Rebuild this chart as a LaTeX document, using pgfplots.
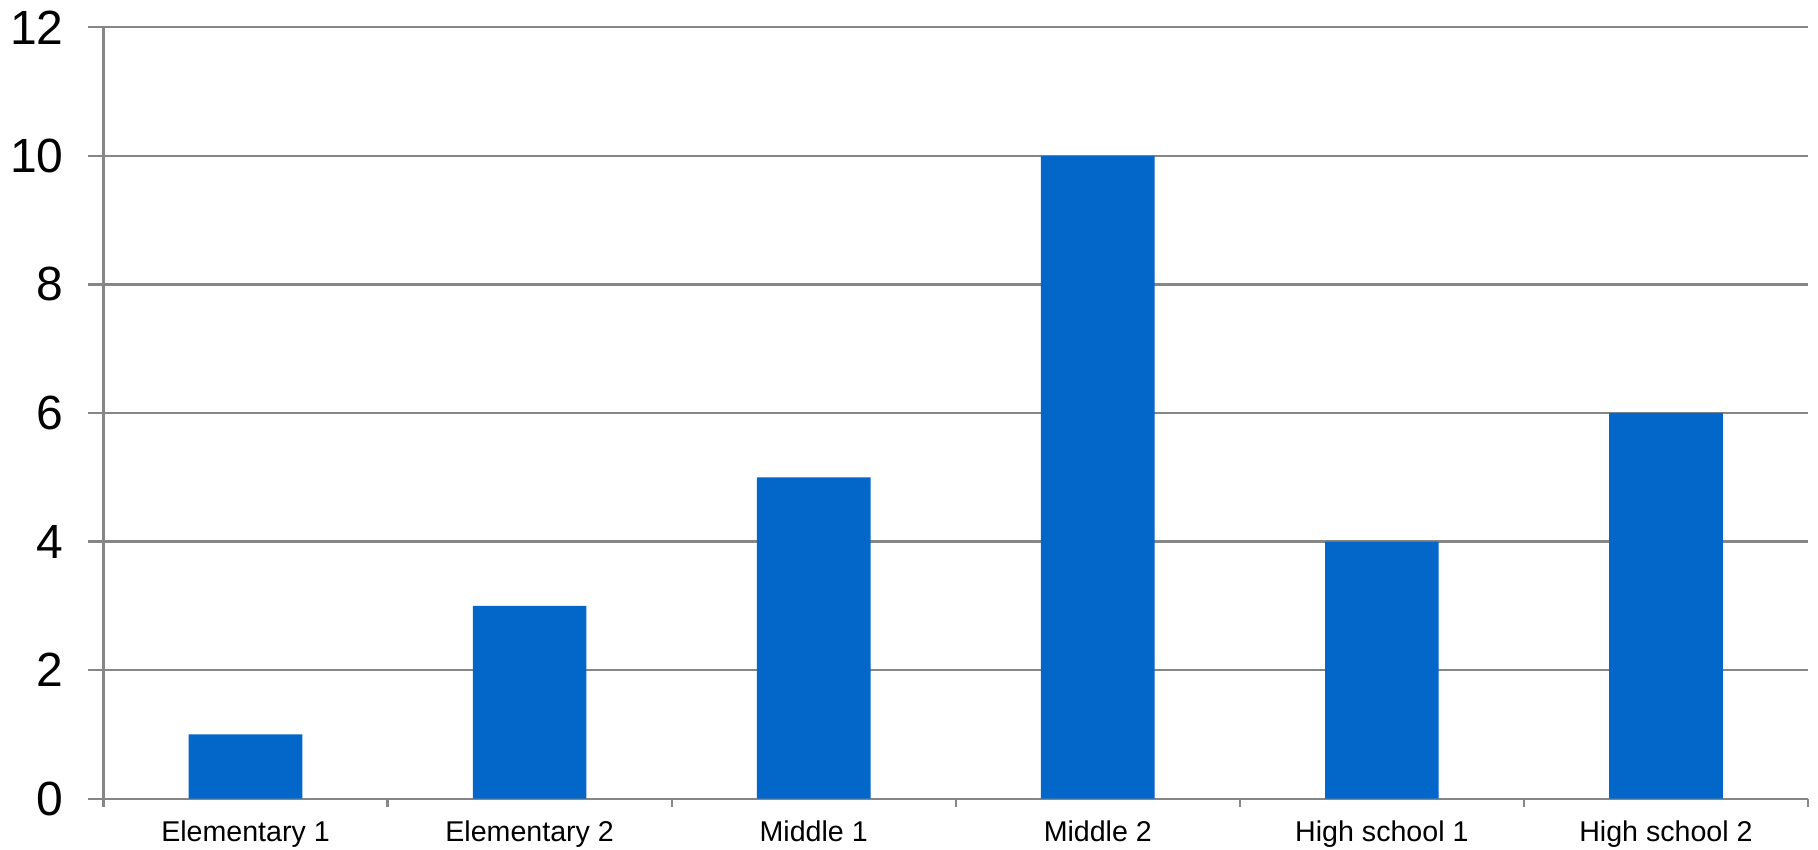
\documentclass[border=0pt]{standalone}
\usepackage{pgfplots}
\pgfplotsset{compat=1.18}
\usepackage{fontspec}
\setmainfont{Liberation Sans}
\definecolor{barblue}{RGB}{3,102,201}
\definecolor{axisgray}{RGB}{134,134,134}
\begin{document}
\begin{tikzpicture}
\useasboundingbox (-51.75pt,-25.65pt) rectangle (857.25pt,399.35pt);
\begin{axis}[
  at={(0,0)}, anchor=south west,
  scale only axis,
  width=852.25pt, height=385.7pt,
  xmin=-0.5, xmax=5.5,
  ymin=0, ymax=12,
  ytick={0,2,...,12},
  xtick={0,...,5},
  xticklabels={Elementary 1,Elementary 2,Middle 1,Middle 2,High school 1,High school 2},
  minor xtick={-0.5,0.5,...,5.5},
  every major x tick/.append style={draw=none},
  axis x line*=bottom,
  axis y line*=left,
  axis line style={draw=axisgray, line width=1.1pt, -},
  tick align=outside,
  major tick length=7.5pt,
  minor tick length=4pt,
  tick style={draw=axisgray, line width=1.1pt},
  ymajorgrids,
  grid style={draw=axisgray, line width=1.1pt},
  /pgf/number format/assume math mode=true,
  yticklabel style={font=\fontsize{24}{24}\selectfont, xshift=-9pt},
  xticklabel style={font=\fontsize{14.3}{14.3}\selectfont, yshift=0pt},
  ybar, bar width=0.4,
]
\addplot[fill=barblue, draw=none] coordinates {(0,1) (1,3) (2,5) (3,10) (4,4) (5,6)};
\end{axis}
\end{tikzpicture}
\end{document}
